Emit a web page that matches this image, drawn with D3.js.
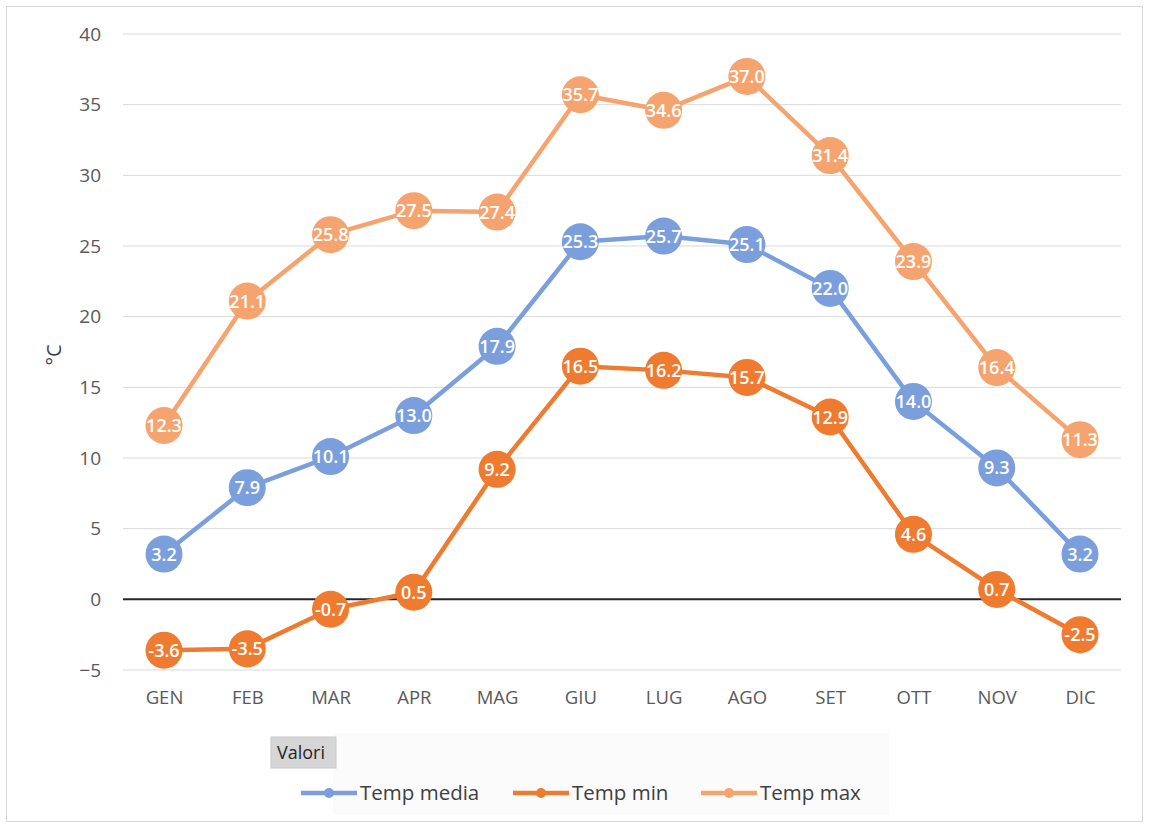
<!DOCTYPE html>
<html><head><meta charset="utf-8">
<script src="https://cdn.jsdelivr.net/npm/d3@7"></script>
<style>body{margin:0;background:#fff;font-family:"Open Sans","Noto Sans",sans-serif}</style>
</head><body><svg id="c" width="1149" height="828"></svg>
<script>
const months = ["GEN","FEB","MAR","APR","MAG","GIU","LUG","AGO","SET","OTT","NOV","DIC"];
const tempMedia = [3.2,7.9,10.1,13.0,17.9,25.3,25.7,25.1,22.0,14.0,9.3,3.2];
const tempMin = [-3.6,-3.5,-0.7,0.5,9.2,16.5,16.2,15.7,12.9,4.6,0.7,-2.5];
const tempMax = [12.3,21.1,25.8,27.5,27.4,35.7,34.6,37.0,31.4,23.9,16.4,11.3];
const yTicks = [-5,0,5,10,15,20,25,30,35,40];
const seriesNames = ["Temp media","Temp min","Temp max"];
const colors = ["#7B9FDC","#EE7B2F","#F5A46F"];

const svg = d3.select("#c");
svg.append("rect").attr("x",6.5).attr("y",6.5).attr("width",1136).attr("height",815)
  .attr("fill","#fff").attr("stroke","#d9d9d9");

const x = d3.scalePoint().domain(months).range([164,1080]);
const y = d3.scaleLinear().domain([-5,40]).range([670,34]);
const x0 = 123, x1 = 1121;

svg.append("g").selectAll("line").data(yTicks).join("line")
  .attr("x1",x0).attr("x2",x1).attr("y1",d=>y(d)).attr("y2",d=>y(d))
  .attr("stroke",d=>d===0?"#262626":"#d9d9d9").attr("stroke-width",d=>d===0?2:1);

const yAxis = d3.axisLeft(y).tickValues(yTicks).tickSize(0).tickPadding(0);
const ga = svg.append("g").attr("transform","translate(101,0)").call(yAxis);
ga.select(".domain").remove();
ga.selectAll("text").attr("font-size",19).attr("fill","#595959").attr("font-family","Open Sans, sans-serif");

const xAxis = d3.axisBottom(x).tickSize(0).tickPadding(0);
const gx = svg.append("g").attr("transform","translate(0,691)").call(xAxis);
gx.select(".domain").remove();
gx.selectAll("text").attr("font-size",18.5).attr("fill","#595959").attr("font-family","Open Sans, sans-serif");

svg.append("text").attr("transform","translate(61,355) rotate(-90)").attr("text-anchor","middle")
  .attr("font-size",20).attr("fill","#404040").text("°C");

const data = [tempMedia,tempMin,tempMax];
const line = d3.line().x((d,i)=>x(months[i])).y(d=>y(d));
[2,0,1].forEach(s=>{
  const g = svg.append("g");
  g.append("path").datum(data[s]).attr("d",line).attr("fill","none")
    .attr("stroke",colors[s]).attr("stroke-width",4.5).attr("stroke-linejoin","round");
  g.selectAll("circle").data(data[s]).join("circle")
    .attr("cx",(d,i)=>x(months[i])).attr("cy",d=>y(d)).attr("r",18.5).attr("fill",colors[s]);
  g.selectAll("text").data(data[s]).join("text")
    .attr("x",(d,i)=>x(months[i])).attr("y",d=>y(d)+6.5).attr("text-anchor","middle")
    .attr("font-size",18).attr("font-weight","600").attr("fill","#fff")
    .attr("font-family","Open Sans, sans-serif")
    .text(d=>d.toFixed(1));
});

svg.append("rect").attr("x",333).attr("y",733).attr("width",556).attr("height",82).attr("fill","#fbfbfb");
svg.append("rect").attr("x",271).attr("y",737).attr("width",65).attr("height",31).attr("fill","#d6d6d6").attr("stroke","#c8c8c8");
svg.append("text").attr("x",277).attr("y",759).attr("font-size",18).attr("fill","#262626").text("Valori");

const legX = [301,513,701];
seriesNames.forEach((n,i)=>{
  const g = svg.append("g");
  g.append("line").attr("x1",legX[i]).attr("x2",legX[i]+56).attr("y1",793).attr("y2",793)
    .attr("stroke",colors[i]).attr("stroke-width",4.5);
  g.append("circle").attr("cx",legX[i]+28).attr("cy",793).attr("r",5).attr("fill",colors[i]);
  g.append("text").attr("x",legX[i]+59).attr("y",800).attr("font-size",20.5).attr("fill","#404040").text(n);
});
</script></body></html>
